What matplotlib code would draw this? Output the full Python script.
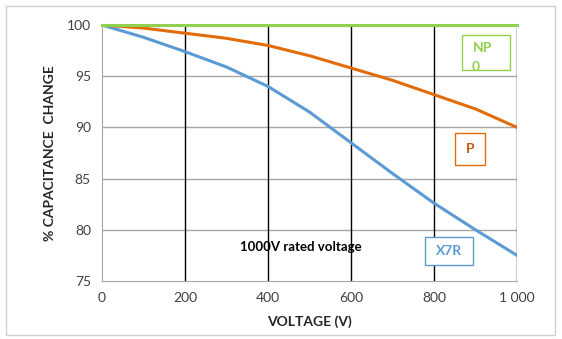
import matplotlib.pyplot as plt
from matplotlib.patches import Rectangle

plt.rcParams["font.family"] = ["Lato", "DejaVu Sans"]

voltage = [0, 100, 200, 300, 400, 500, 600, 700, 800, 900, 1000]
np0 = [100, 100, 100, 100, 100, 100, 100, 100, 100, 100, 100]
p_type = [100, 99.7, 99.2, 98.7, 98.0, 97.0, 95.8, 94.6, 93.2, 91.8, 90.0]
x7r = [100, 98.8, 97.4, 95.9, 94.0, 91.5, 88.5, 85.5, 82.6, 80.0, 77.5]
xticks = [0, 200, 400, 600, 800, 1000]
xtick_labels = ["0", "200", "400", "600", "800", "1 000"]
yticks = [75, 80, 85, 90, 95, 100]

c_np0 = "#92d050"
c_p = "#e36c0a"
c_x7r = "#5b9bd5"

fig = plt.figure(figsize=(5.62, 3.39), dpi=100)
fig.patches.append(Rectangle((0.011, 0.012), 0.977, 0.97, transform=fig.transFigure,
                             fill=False, edgecolor="#d0d0d0", lw=1))
ax = fig.add_axes([102 / 562, 1 - 281 / 339, (517 - 102) / 562, (281 - 25) / 339])

ax.set_xlim(0, 1000)
ax.set_ylim(75, 100)
for y in yticks[1:-1]:
    ax.axhline(y, color="#a6a6a6", lw=1, zorder=1)
for x in xticks[1:]:
    ax.axvline(x, color="black", lw=1, zorder=1)

ax.plot(voltage, x7r, color=c_x7r, lw=2.2, zorder=3)
ax.plot(voltage, p_type, color=c_p, lw=2.2, zorder=3)
ax.plot(voltage, np0, color=c_np0, lw=2.2, zorder=4, clip_on=False)

for side in ["top", "right"]:
    ax.spines[side].set_visible(False)
ax.spines["left"].set_color("#a6a6a6")
ax.spines["bottom"].set_color("#a6a6a6")
ax.tick_params(length=0, labelsize=10, colors="#404040", pad=8)
ax.set_xticks(xticks)
ax.set_xticklabels(xtick_labels)
ax.set_yticks(yticks)

ax.set_xlabel("VOLTAGE (V)", fontsize=10, fontweight="bold", color="#262626", labelpad=8)
ax.set_ylabel("% CAPACITANCE  CHANGE", fontsize=10, fontweight="bold", color="#262626", labelpad=8)

ax.text(480, 78.3, "1000V rated voltage", fontsize=9.5, fontweight="bold", ha="center", va="center")

# label boxes
ax.add_patch(Rectangle((867, 95.6), 116, 3.4, fc="white", ec=c_np0, lw=1, zorder=5))
ax.text(916, 97.8, "NP", color=c_np0, fontsize=10, fontweight="bold", ha="center", va="center", zorder=6)
ax.text(901, 95.9, "0", color=c_np0, fontsize=10, fontweight="bold", ha="center", va="center", zorder=6)

ax.add_patch(Rectangle((851, 86.35), 72, 3.1, fc="white", ec=c_p, lw=1, zorder=5))
ax.text(887, 87.85, "P", color="#c55a11", fontsize=10, fontweight="bold", ha="center", va="center", zorder=6)

ax.add_patch(Rectangle((778, 76.55), 116, 2.75, fc="white", ec=c_x7r, lw=1, zorder=5))
ax.text(836, 77.9, "X7R", color=c_x7r, fontsize=10, fontweight="bold", ha="center", va="center", zorder=6)

fig.savefig("out.png", dpi=100)
